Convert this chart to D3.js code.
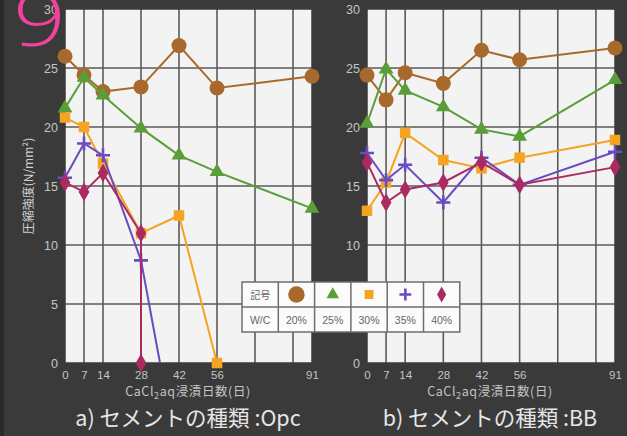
<!DOCTYPE html>
<html><head><meta charset="utf-8">
<script src="https://cdn.jsdelivr.net/npm/d3@7/dist/d3.min.js"></script>
<style>
html,body{margin:0;padding:0;background:#3a3a3a;}
svg{display:block;}
</style></head>
<body>
<svg id="chart" width="627" height="436"></svg>
<script>
// ---- data ----
const daysAll = [0, 7, 14, 28, 42, 56, 91];
const tickDays = [0, 7, 14, 28, 42, 56, 91];
const gridDays = [7, 14, 28, 42, 56, 70, 84];
const yTicks = [0, 5, 10, 15, 20, 25, 30];
const wcLabels = ["20%", "25%", "30%", "35%", "40%"];

// a) Opc
const opc20Days = [0, 7, 14, 28, 42, 56, 91];
const opc20 = [26.0, 24.4, 23.0, 23.4, 26.9, 23.3, 24.3];
const opc25Days = [0, 7, 14, 28, 42, 56, 91];
const opc25 = [21.6, 24.2, 22.7, 19.9, 17.6, 16.2, 13.1];
const opc30Days = [0, 7, 14, 28, 42, 56];
const opc30 = [20.8, 20.0, 16.9, 11.0, 12.5, 0];
const opc35Days = [0, 7, 14, 28, 35];
const opc35 = [15.7, 18.6, 17.6, 8.7, 0];
const opc40Days = [0, 7, 14, 28, 28];
const opc40 = [15.3, 14.5, 16.1, 11.0, 0];

// b) BB
const bb20 = [24.4, 22.3, 24.6, 23.7, 26.5, 25.7, 26.7];
const bb25 = [20.3, 24.9, 23.1, 21.7, 19.8, 19.2, 24.0];
const bb30 = [12.9, 15.3, 19.5, 17.2, 16.5, 17.4, 18.9];
const bb35 = [17.8, 15.5, 16.8, 13.6, 17.4, 15.1, 17.9];
const bb40 = [17.0, 13.6, 14.7, 15.3, 17.0, 15.1, 16.6];

// ---- styles ----
const colors = ["#a86a2c", "#5a9e3a", "#f5a422", "#6a4cc0", "#ac2a62"];
const shapes = ["circle", "triangle", "square", "cross", "diamond"];

const svg = d3.select("#chart");
const W = 627, H = 436;

svg.append("rect").attr("width", W).attr("height", H).attr("fill", "#3a3a3a");
svg.append("rect").attr("x", 0).attr("y", 0).attr("width", 4).attr("height", H).attr("fill", "#2a2a2a");

const y = d3.scaleLinear().domain([0, 30]).range([363, 9]);

const panels = [
  { x0: 65, x1: 312, cx: 188, title: "a) セメントの種類 :Opc", yLabel: true,
    series: [
      { days: opc20Days, vals: opc20 },
      { days: opc25Days, vals: opc25 },
      { days: opc30Days, vals: opc30 },
      { days: opc35Days, vals: opc35, noLastMark: true },
      { days: opc40Days, vals: opc40 }
    ] },
  { x0: 367, x1: 615, cx: 490, title: "b) セメントの種類 :BB", yLabel: false,
    series: [
      { days: daysAll, vals: bb20 },
      { days: daysAll, vals: bb25 },
      { days: daysAll, vals: bb30 },
      { days: daysAll, vals: bb35 },
      { days: daysAll, vals: bb40 }
    ] }
];

function drawMarker(g, shape, color, cx, cy, s) {
  s = s || 1;
  if (shape === "circle") {
    g.append("circle").attr("cx", cx).attr("cy", cy).attr("r", 7.5 * s).attr("fill", color);
  } else if (shape === "triangle") {
    g.append("path").attr("transform", `translate(${cx},${cy})`)
      .attr("d", d3.symbol(d3.symbolTriangle, 95 * s * s)()).attr("fill", color);
  } else if (shape === "square") {
    g.append("path").attr("transform", `translate(${cx},${cy})`)
      .attr("d", d3.symbol(d3.symbolSquare, 110 * s * s)()).attr("fill", color);
  } else if (shape === "diamond") {
    g.append("path").attr("transform", `translate(${cx},${cy})`)
      .attr("d", d3.symbol(d3.symbolDiamond, 100 * s * s)()).attr("fill", color);
  } else if (shape === "cross") {
    const r = 7 * s;
    g.append("path").attr("d", `M${cx - r},${cy}H${cx + r}M${cx},${cy - r}V${cy + r}`)
      .attr("stroke", color).attr("stroke-width", 2.6).attr("fill", "none");
  }
}

panels.forEach(p => {
  const x = d3.scaleLinear().domain([0, 91]).range([p.x0, p.x1]);
  const g = svg.append("g");
  g.append("rect").attr("x", p.x0).attr("y", y(30)).attr("width", p.x1 - p.x0)
    .attr("height", y(0) - y(30)).attr("fill", "#f3f3f3");
  g.append("g").selectAll("line").data(gridDays).join("line")
    .attr("x1", d => x(d)).attr("x2", d => x(d)).attr("y1", y(30)).attr("y2", y(0))
    .attr("stroke", "#5a5a5a").attr("stroke-width", 1.6);
  g.append("g").selectAll("line").data(yTicks.slice(1, -1)).join("line")
    .attr("x1", p.x0).attr("x2", p.x1).attr("y1", d => y(d)).attr("y2", d => y(d))
    .attr("stroke", "#5a5a5a").attr("stroke-width", 1.6);
  g.append("rect").attr("x", p.x0).attr("y", y(30)).attr("width", p.x1 - p.x0)
    .attr("height", y(0) - y(30)).attr("fill", "none").attr("stroke", "#3b3b3b").attr("stroke-width", 1.5);

  const ax = d3.axisBottom(x).tickValues(tickDays).tickSize(0).tickPadding(7);
  const axG = g.append("g").attr("transform", `translate(0,${y(0) + 1})`).call(ax);
  axG.select(".domain").remove();
  axG.selectAll("text").attr("fill", "#c4c4c4").attr("font-size", 11.5)
    .attr("font-family", "'Liberation Sans', Arial, sans-serif");
  const ay = d3.axisLeft(y).tickValues(yTicks).tickSize(0).tickPadding(7);
  const ayG = g.append("g").attr("transform", `translate(${p.x0},0)`).call(ay);
  ayG.select(".domain").remove();
  ayG.selectAll("text").attr("fill", "#c4c4c4").attr("font-size", 12.5)
    .attr("font-family", "'Liberation Sans', Arial, sans-serif");

  const line = d3.line().x(d => x(d[0])).y(d => y(d[1]));
  p.series.forEach((s, i) => {
    const pts = s.days.map((d, k) => [d, s.vals[k]]);
    g.append("path").attr("d", line(pts)).attr("fill", "none")
      .attr("stroke", colors[i]).attr("stroke-width", 2);
    const mg = g.append("g");
    pts.forEach((pt, k) => {
      if (s.noLastMark && k === pts.length - 1) return;
      drawMarker(mg, shapes[i], colors[i], x(pt[0]), y(pt[1]));
    });
  });

  const xt = g.append("text").attr("x", p.cx).attr("y", 396).attr("text-anchor", "middle")
    .attr("fill", "#c4c4c4").attr("font-size", 12.5).attr("letter-spacing", 0.6)
    .attr("font-family", "'Noto Sans CJK JP', sans-serif");
  xt.append("tspan").text("CaCl");
  xt.append("tspan").text("2").attr("font-size", 9).attr("dy", 3);
  xt.append("tspan").text("aq浸漬日数(日)").attr("dy", -3);

  g.append("text").attr("x", p.cx).attr("y", 426).attr("text-anchor", "middle")
    .attr("fill", "#e6e6e6").attr("font-size", 21.5)
    .attr("font-family", "'Noto Sans CJK JP', sans-serif").text(p.title);

  if (p.yLabel) {
    g.append("text").attr("transform", `translate(33,186) rotate(-90)`)
      .attr("text-anchor", "middle").attr("fill", "#d0d0d0").attr("font-size", 12)
      .attr("font-family", "'Noto Sans CJK JP', sans-serif").text("圧縮強度(N/mm²)");
  }
});

// legend
const lg = svg.append("g");
const lx = 242, ly = 282, cw = 36.3, rh = 25;
lg.append("rect").attr("x", lx).attr("y", ly).attr("width", cw * 6).attr("height", rh * 2)
  .attr("fill", "#fbfbfb").attr("stroke", "#6e6e6e").attr("stroke-width", 1.5);
for (let c = 1; c < 6; c++) {
  lg.append("line").attr("x1", lx + c * cw).attr("x2", lx + c * cw).attr("y1", ly).attr("y2", ly + 2 * rh)
    .attr("stroke", "#6e6e6e").attr("stroke-width", 1.5);
}
lg.append("line").attr("x1", lx).attr("x2", lx + 6 * cw).attr("y1", ly + rh).attr("y2", ly + rh)
  .attr("stroke", "#6e6e6e").attr("stroke-width", 1.5);
lg.append("text").attr("x", lx + cw / 2).attr("y", ly + rh / 2 + 4).attr("text-anchor", "middle")
  .attr("font-size", 10).attr("fill", "#666").attr("font-family", "'Noto Sans CJK JP', sans-serif").text("記号");
lg.append("text").attr("x", lx + cw / 2).attr("y", ly + rh * 1.5 + 4).attr("text-anchor", "middle")
  .attr("font-size", 10.5).attr("fill", "#666").attr("font-family", "'Liberation Sans', Arial, sans-serif").text("W/C");
wcLabels.forEach((lab, i) => {
  const cx = lx + (i + 1.5) * cw;
  drawMarker(lg, shapes[i], colors[i], cx, ly + rh / 2, i === 0 ? 1.1 : 0.85);
  lg.append("text").attr("x", cx).attr("y", ly + rh * 1.5 + 4).attr("text-anchor", "middle")
    .attr("font-size", 10.5).attr("fill", "#666").attr("font-family", "'Liberation Sans', Arial, sans-serif").text(lab);
});

// pink figure number
svg.append("text").attr("transform", "translate(13,46) scale(1.25,1)").attr("fill", "#f0429c")
  .attr("font-size", 74).attr("font-weight", 300)
  .attr("font-family", "'Open Sans', sans-serif").text("9");
</script>
</body></html>
